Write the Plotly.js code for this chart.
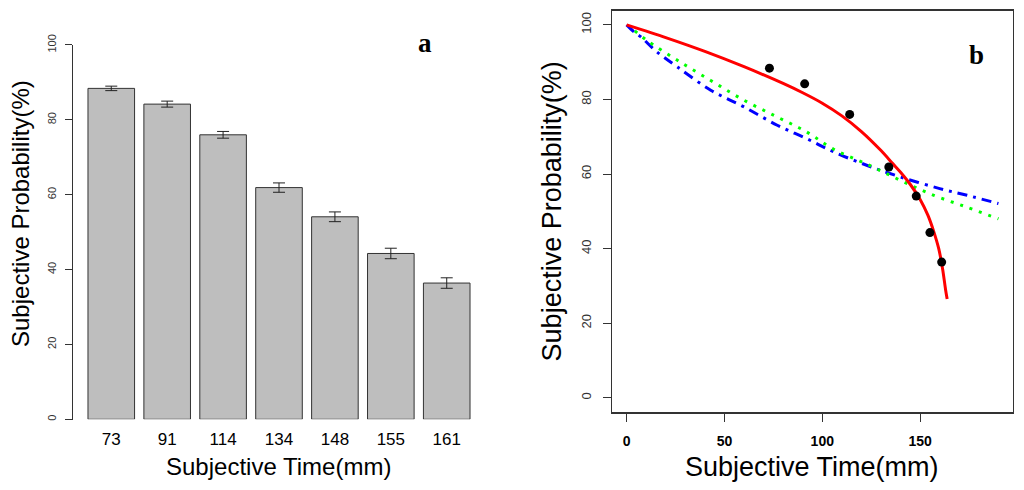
<!DOCTYPE html>
<html>
<head>
<meta charset="utf-8">
<script src="https://cdn.plot.ly/plotly-3.0.1.min.js"></script>
<style>
  html, body { margin: 0; padding: 0; background: #fff; }
  #wrap { position: relative; width: 1024px; height: 490px; }
  #chart { width: 1024px; height: 490px; }
  /* R-style frame of panel b and axis line of panel a, laid over the plot */
  .rline { position: absolute; pointer-events: none; box-sizing: border-box; }
  #frameB { left: 611px; top: 10px; width: 403px; height: 403px; border: 1px solid #333; }
  #axisA { left: 72px; top: 45px; width: 1px; height: 375px; background: #333; }
</style>
</head>
<body>
<div id="wrap">
  <div id="chart"></div>
  <div id="frameB" class="rline"></div>
  <div id="axisA" class="rline"></div>
</div>
<script>
// Panel a: mean subjective probability per subjective time, with error bars.
// Panel b: same points plus three fitted curves.

const timeVals = [73, 91, 114, 134, 148, 155, 161];
const probMean = [88.4, 84.2, 76.0, 61.9, 54.1, 44.3, 36.4];
const probErr = [0.6, 0.8, 0.9, 1.25, 1.3, 1.4, 1.4];

// fitted curves
const redX = [0, 20, 40, 60, 80, 90, 100, 110, 120, 130, 136, 140, 145, 150, 154, 157, 159.5, 161.5, 163, 163.8];
const redY = [100, 96.6, 92.9, 88.8, 84.3, 81.8, 79.0, 75.6, 71.4, 66.3, 62.8, 60.5, 57.2, 53.2, 48.9, 44.5, 40.0, 34.5, 29.0, 26.5];
const blueX = [0, 3.9, 7.3, 15, 26, 43, 60, 77, 92, 106, 123, 140, 160, 174, 190];
const blueY = [100, 98.1, 96.8, 93.0, 88.7, 82.5, 78.0, 73.1, 69.5, 65.9, 62.3, 59.2, 56.1, 54.3, 52.1];
const greenX = [4.2, 10, 26, 43, 60, 77, 92, 106, 123, 140, 157, 174, 190];
const greenY = [98.4, 96.0, 90.5, 85.1, 79.8, 75.3, 71.3, 66.6, 62.6, 58.3, 54.3, 51.1, 48.0];

const yTicks = [0, 20, 40, 60, 80, 100];
const xTicksB = [0, 50, 100, 150];

const FONT = "Liberation Sans, Arial, sans-serif";
const FRAME = "#333";
const W = 1024, H = 490;
const px = (x) => x / W;
const py = (y) => 1 - y / H;

// plot boxes in picture pixels
const boxA = { l: 72.7, r: 485.3, t: 30, b: 419.3 };
const boxB = { l: 611.7, r: 1013.3, t: 10, b: 412.7 };

const traces = [
  {
    x: timeVals.map(String), y: probMean, type: "bar", xaxis: "x", yaxis: "y",
    marker: { color: "#bebebe", line: { color: FRAME, width: 1 } },
    error_y: { type: "data", array: probErr, color: "#222", thickness: 1, width: 6 },
  },
  {
    x: blueX, y: blueY, mode: "lines", xaxis: "x2", yaxis: "y2",
    line: { color: "#0000ff", width: 3, dash: "10px,6px,3px,6px", shape: "spline" },
  },
  {
    x: greenX, y: greenY, mode: "lines", xaxis: "x2", yaxis: "y2",
    line: { color: "#00ff00", width: 3, dash: "3px,7px", shape: "spline" },
  },
  {
    x: redX, y: redY, mode: "lines", xaxis: "x2", yaxis: "y2",
    line: { color: "#ff0000", width: 3, shape: "spline", smoothing: 0.8 },
  },
  {
    x: timeVals, y: probMean, mode: "markers", xaxis: "x2", yaxis: "y2",
    marker: { color: "#000", size: 9 },
  },
];

const title = (text, x, y, size, angle) => ({
  xref: "paper", yref: "paper", x, y, text, showarrow: false, textangle: angle || 0,
  xanchor: "center", yanchor: "middle", font: { family: FONT, size, color: "#000" },
});

const layout = {
  width: W, height: H,
  margin: { l: 0, r: 0, t: 0, b: 0 },
  paper_bgcolor: "#fff", plot_bgcolor: "#fff",
  showlegend: false,
  bargap: 0.1667,
  xaxis: {
    domain: [px(boxA.l), px(boxA.r)], anchor: "y", type: "category",
    range: [-0.69, 6.69], showline: false, showgrid: false, zeroline: false, ticks: "",
    ticklabelstandoff: 8,
    tickfont: { family: FONT, size: 17, color: "#000" },
  },
  yaxis: {
    domain: [py(boxA.b), py(boxA.t)], anchor: "x", range: [0, 104],
    tickvals: yTicks, ticks: "outside", ticklen: 7, tickcolor: FRAME,
    tickangle: -90, ticklabelstandoff: 4,
    showline: false, showgrid: false, zeroline: false,
    tickfont: { family: FONT, size: 11, color: "#333" },
  },
  xaxis2: {
    domain: [px(boxB.l), px(boxB.r)], anchor: "y2", range: [-7.6, 197.6],
    tickvals: xTicksB, ticks: "outside", ticklen: 8, tickcolor: FRAME,
    ticklabelstandoff: 7,
    showline: true, mirror: true, linecolor: FRAME, linewidth: 1,
    showgrid: false, zeroline: false,
    tickfont: { family: FONT, size: 14, color: "#000", weight: 700 },
  },
  yaxis2: {
    domain: [py(boxB.b), py(boxB.t)], anchor: "x2", range: [-4, 104],
    tickvals: yTicks, ticks: "outside", ticklen: 8, tickcolor: FRAME,
    tickangle: -90, ticklabelstandoff: 7,
    showline: true, mirror: true, linecolor: FRAME, linewidth: 1,
    showgrid: false, zeroline: false,
    tickfont: { family: FONT, size: 13, color: "#333" },
  },
  annotations: [
    title("Subjective Time(mm)", px(278.5), py(466), 24),
    title("Subjective Probability(%)", px(20), py(214), 24, -90),
    title("Subjective Time(mm)", px(811.5), py(466.7), 27),
    title("Subjective Probability(%)", px(551.7), py(211.7), 27, -90),
    {
      xref: "paper", yref: "paper", x: px(425), y: py(43), text: "<b>a</b>", showarrow: false,
      xanchor: "center", yanchor: "middle", font: { family: "Liberation Serif, Times New Roman, serif", size: 27, color: "#000" },
    },
    {
      xref: "paper", yref: "paper", x: px(976), y: py(55), text: "<b>b</b>", showarrow: false,
      xanchor: "center", yanchor: "middle", font: { family: "Liberation Serif, Times New Roman, serif", size: 27, color: "#000" },
    },
  ],
};

Plotly.newPlot("chart", traces, layout, { displayModeBar: false, staticPlot: true });
</script>
</body>
</html>
